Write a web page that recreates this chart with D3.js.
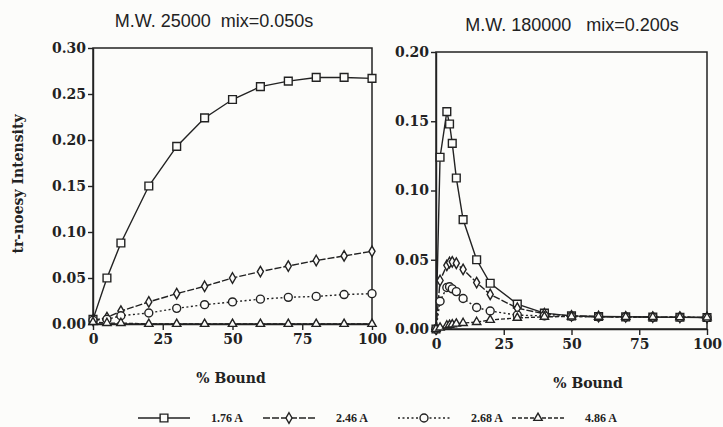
<!DOCTYPE html>
<html>
<head>
<meta charset="utf-8">
<script src="https://cdn.jsdelivr.net/npm/d3@7"></script>
<style>
  body { margin: 0; background: #fcfcfa; }
  svg { display: block; }
  .tick text { font-family: "DejaVu Serif", serif; font-weight: bold; font-size: 14px; fill: #222; }
  .tick line, .domain { stroke: #222; stroke-width: 1.4; }
</style>
</head>
<body>
<div id="chart"></div>
<script>
// values
const leftBound = [0, 5, 10, 20, 30, 40, 50, 60, 70, 80, 90, 100];
const left176 = [0.005, 0.050, 0.088, 0.150, 0.193, 0.224, 0.244, 0.258, 0.264, 0.268, 0.268, 0.267];
const left246 = [0.004, 0.007, 0.014, 0.024, 0.033, 0.041, 0.050, 0.057, 0.063, 0.069, 0.074, 0.079];
const left268 = [0.004, 0.005, 0.009, 0.012, 0.017, 0.021, 0.024, 0.027, 0.029, 0.030, 0.032, 0.033];
const left486 = [0.002, 0.001, 0.001, 0.000, 0.000, 0.000, 0.000, 0.000, 0.000, 0.000, 0.000, 0.000];

const rightBound = [0, 1.5, 4, 5, 6, 7.5, 10, 15, 20, 30, 40, 50, 60, 70, 80, 90, 100];
const right176 = [0.000, 0.124, 0.157, 0.148, 0.134, 0.109, 0.079, 0.050, 0.033, 0.018, 0.0115, 0.0095, 0.009, 0.0088, 0.0086, 0.0085, 0.0083];
const right246 = [0.000, 0.035, 0.046, 0.048, 0.0485, 0.0475, 0.043, 0.0335, 0.025, 0.015, 0.011, 0.0095, 0.009, 0.0088, 0.0086, 0.0085, 0.0083];
const right268 = [0.000, 0.020, 0.030, 0.0305, 0.029, 0.027, 0.022, 0.0155, 0.013, 0.010, 0.0095, 0.009, 0.0088, 0.0087, 0.0086, 0.0085, 0.0083];
const right486 = [0.000, 0.001, 0.0025, 0.003, 0.0033, 0.0038, 0.0043, 0.005, 0.0065, 0.008, 0.0088, 0.009, 0.0088, 0.0087, 0.0086, 0.0085, 0.0083];

const xTicks = [0, 25, 50, 75, 100];
const leftYTicks = [0, 0.05, 0.10, 0.15, 0.20, 0.25, 0.30];
const rightYTicks = [0, 0.05, 0.10, 0.15, 0.20];
const seriesNames = ["1.76 A", "2.46 A", "2.68 A", "4.86 A"];

const ink = "#222";
const width = 723, height = 427;

// one style per distance: marker + dash pattern
const styles = [
  {symbol: d3.symbolSquare, size: 60, dash: null},
  {symbol: d3.symbolDiamond, size: 32, dash: "7,2"},
  {symbol: d3.symbolCircle, size: 50, dash: "2,2.5"},
  {symbol: d3.symbolTriangle, size: 30, dash: "4,2"}
];

const svg = d3.select("#chart").append("svg")
    .attr("width", width)
    .attr("height", height);

function drawPanel(p) {
    const x = d3.scaleLinear().domain([0, 100]).range([p.x0, p.x1]);
    const y = d3.scaleLinear().domain([0, p.yMax]).range([p.y1, p.y0]);
    const g = svg.append("g");

    // frame
    g.append("rect")
        .attr("x", p.x0).attr("y", p.y0)
        .attr("width", p.x1 - p.x0).attr("height", p.y1 - p.y0)
        .attr("fill", "none").attr("stroke", ink).attr("stroke-width", 1.5);

    g.append("g")
        .attr("transform", `translate(0,${p.y1})`)
        .call(d3.axisBottom(x).tickValues(xTicks).tickSize(6).tickSizeOuter(0).tickPadding(4).tickFormat(d3.format("d")));

    g.append("g")
        .attr("transform", `translate(${p.x0},0)`)
        .call(d3.axisLeft(y).tickValues(p.yTicks).tickSize(5).tickSizeOuter(0).tickPadding(2).tickFormat(d3.format(".2f")));

    const line = d3.line().x(d => x(d[0])).y(d => y(d[1]));

    p.series.forEach((vals, i) => {
        const pts = p.bound.map((b, k) => [b, vals[k]]);
        const st = styles[i];
        g.append("path")
            .datum(pts)
            .attr("d", line)
            .attr("fill", "none")
            .attr("stroke", ink)
            .attr("stroke-width", 1.4)
            .attr("stroke-dasharray", st.dash);
        g.selectAll(null)
            .data(pts)
            .enter()
            .append("path")
                .attr("transform", d => `translate(${x(d[0])},${y(d[1])})`)
                .attr("d", d3.symbol().type(st.symbol).size(st.size))
                .attr("fill", "#fcfcfa")
                .attr("stroke", ink)
                .attr("stroke-width", 1.4);
    });

    g.append("text")
        .attr("x", p.titleX).attr("y", p.y0 - 21)
        .attr("text-anchor", "middle")
        .style("font-family", "Liberation Sans, Arial, sans-serif")
        .style("font-size", "18px")
        .attr("fill", ink)
        .text(p.title);

    g.append("text")
        .attr("x", p.labelX).attr("y", p.y1 + 59)
        .attr("text-anchor", "middle")
        .style("font-family", "DejaVu Serif, serif")
        .style("font-weight", "bold")
        .style("font-size", "14px")
        .attr("fill", ink)
        .text("% Bound");
}

drawPanel({
    x0: 93, x1: 372, y0: 48, y1: 324, yMax: 0.30, yTicks: leftYTicks,
    bound: leftBound, series: [left176, left246, left268, left486],
    title: "M.W. 25000\u00a0\u00a0mix=0.050s", titleX: 214, labelX: 231
});

drawPanel({
    x0: 436, x1: 707, y0: 52, y1: 329, yMax: 0.20, yTicks: rightYTicks,
    bound: rightBound, series: [right176, right246, right268, right486],
    title: "M.W. 180000\u00a0\u00a0\u00a0mix=0.200s", titleX: 572, labelX: 588
});

// y axis label
svg.append("text")
    .attr("transform", "translate(23,184) rotate(-90)")
    .attr("text-anchor", "middle")
    .style("font-family", "DejaVu Serif, serif")
    .style("font-weight", "bold")
    .style("font-size", "14px")
    .attr("fill", ink)
    .text("tr-noesy  Intensity");

// legend along the bottom
const legendX = [138, 263, 398, 512];
const legend = svg.append("g").attr("transform", "translate(0,418)");
seriesNames.forEach((name, i) => {
    const st = styles[i];
    const lx = legendX[i];
    legend.append("line")
        .attr("x1", lx).attr("x2", lx + 52)
        .attr("stroke", ink).attr("stroke-width", 1.4)
        .attr("stroke-dasharray", st.dash);
    legend.append("path")
        .attr("transform", `translate(${lx + 26},0)`)
        .attr("d", d3.symbol().type(st.symbol).size(st.size))
        .attr("fill", "#fcfcfa").attr("stroke", ink).attr("stroke-width", 1.4);
    legend.append("text")
        .attr("x", lx + 73).attr("y", 4)
        .style("font-family", "Liberation Serif, serif")
        .style("font-weight", "bold")
        .style("font-size", "12px")
        .attr("fill", ink)
        .text(name);
});
</script>
</body>
</html>
